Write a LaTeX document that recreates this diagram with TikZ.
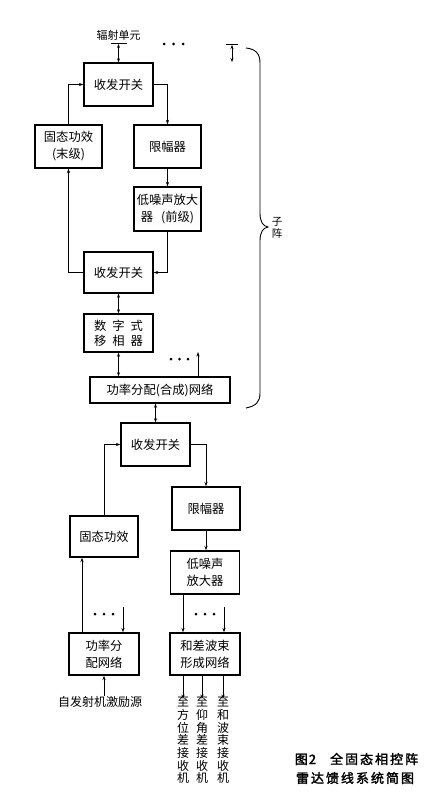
\documentclass[tikz,border=0pt]{standalone}
\usepackage{fontspec}
\newfontfamily\cjk{Noto Sans CJK SC}
\newfontfamily\cjkb[FakeBold=2]{Noto Sans CJK SC}
\usetikzlibrary{arrows.meta}
\begin{document}
\begin{tikzpicture}[x=1pt,y=-1pt,
  box/.style={draw,line width=1.4pt,inner sep=0pt,align=center,font=\cjk\fontsize{12.3}{17}\selectfont},
  bx/.style 2 args={box,minimum width=#1pt,minimum height=#2pt},
  conn/.style={line width=0.9pt},
  arr/.style={conn,-{Stealth[length=4.5pt,width=3.2pt]}},
  darr/.style={conn,{Stealth[length=4pt,width=3pt]}-{Stealth[length=4pt,width=3pt]}},
  lbl/.style={font=\cjk\fontsize{12}{13.5}\selectfont,inner sep=0pt,align=center},
  vlbl/.style={font=\cjk\fontsize{12}{12.7}\selectfont,inner sep=0pt,align=center,anchor=north},
  captxt/.style={font=\cjkb\fontsize{13}{15}\selectfont,inner sep=0pt}]
\useasboundingbox[fill=white] (0,0) rectangle (443,800);

% ---------- sub-array boxes ----------
\node[bx={69}{43}] (ts1) at (118.5,84.5) {收发开关};
\node[bx={67}{43}] (gt1) at (68.5,146.5) {固态功效\\(末级)};
\node[bx={67}{43}] (xf1) at (167.5,146.5) {限幅器};
\node[bx={67}{44}] (dz1) at (167.5,209) {低噪声放大\\器\hspace{8pt}(前级)};
\node[bx={69}{41}] (ts2) at (118.5,272.5) {收发开关};
\node[bx={69}{38}] (yx) at (118.5,333) {数\hspace{6pt}字\hspace{6pt}式\\[-2pt]移\hspace{6pt}相\hspace{6pt}器};
\node[bx={140}{26}] (gf) at (160,390) {功率分配(合成)网络};

% ---------- lower boxes ----------
\node[bx={69}{43}] (ts3) at (155.5,444.5) {收发开关};
\node[bx={68}{41}] (gt2) at (104,536.5) {固态功效};
\node[bx={68}{43}] (xf2) at (206,508.5) {限幅器};
\node[bx={69}{43}] (dz2) at (205,572.5) {低噪声\\放大器};
\node[bx={70}{42}] (fp) at (104,654) {功率分\\配网络};
\node[bx={70}{42}] (hc) at (205,654) {和差波束\\形成网络};

% ---------- antenna and top ----------
\node[lbl,font=\cjk\fontsize{11}{12}\selectfont] (ant) at (118.5,35) {辐射单元};
\coordinate (antb) at (118.5,44);
\draw[line width=1pt] (110.5,44) -- (126.5,44);
\draw[darr] (antb) -- (ts1.north);
\foreach \xx in {164,173.5,183} \fill (\xx,44) circle (1.5pt);
\coordinate (tb) at (232,45);
\coordinate (te) at (232,62);
\draw[line width=1pt] (226,45) -- (238,45);
\draw[darr] (tb) -- (te);

% ---------- sub-array connections ----------
\draw[arr] (gt1.north) |- (ts1.west);
\draw[arr] (ts1.east) -| (xf1.north);
\draw[arr] (xf1.south) -- (xf1.south |- dz1.north);
\draw[arr] (dz1.south) |- (ts2.east);
\draw[arr] (ts2.west) -| (gt1.south);
\draw[darr] (ts2.south) -- (yx.north);
\draw[darr] (yx.south) -- (yx.south |- gf.north);
\foreach \xx in {171,179.5,188} \fill (\xx,359) circle (1.5pt);
\coordinate (gfo) at (198,352);
\draw[arr] (gf.north -| gfo) -- (gfo);

% ---------- brace ----------
\draw[line width=0.9pt] (246,48) .. controls (256,49) and (260,54) .. (260,63)
  -- (260,213) .. controls (260,222) and (263,226) .. (268,227)
  .. controls (263,228) and (260,232) .. (260,241)
  -- (260,393) .. controls (260,402) and (256,406) .. (246,408);
\node[lbl,font=\cjk\fontsize{10.5}{11.5}\selectfont] (zz) at (277,228) {子\\阵};

% ---------- lower connections ----------
\draw[darr] (ts3.north |- gf.south) -- (ts3.north);
\draw[arr] (gt2.north) |- (ts3.west);
\draw[arr] (ts3.east) -| (xf2.north);
\draw[arr] (xf2.south) -- (xf2.south |- dz2.north);
\draw[arr] ([xshift=-22pt]fp.north) -- ([xshift=-22pt]gt2.south);
\draw[arr] ([xshift=-22pt]dz2.south) -- ([xshift=-22pt]hc.north);
\foreach \xx in {95,104,113} \fill (\xx,614) circle (1.5pt);
\foreach \xx in {196,205,214} \fill (\xx,614) circle (1.5pt);
\coordinate (fpi) at (123,607);
\coordinate (hci) at (224,607);
\draw[arr] (fpi) -- (fpi |- fp.north);
\draw[arr] (hci) -- (hci |- hc.north);

\node[lbl] (src) at (100,702) {自发射机激励源};
\draw[arr] (src.north -| fp.south) -- (fp.south);

\node[vlbl] (o1) at (183,697) {至\\方\\位\\差\\接\\收\\机};
\node[vlbl] (o2) at (202,697) {至\\仰\\角\\差\\接\\收\\机};
\node[vlbl] (o3) at (223,697) {至\\和\\波\\束\\接\\收\\机};
\draw[arr] (o1.north |- hc.south) -- ([yshift=-2pt]o1.north);
\draw[arr] (o2.north |- hc.south) -- ([yshift=-2pt]o2.north);
\draw[arr] (o3.north |- hc.south) -- ([yshift=-2pt]o3.north);

% ---------- caption ----------
\node[captxt] (c1) at (356.5,759) {图\hspace{1pt}2\hspace{14pt}全\hspace{2pt}固\hspace{2pt}态\hspace{2pt}相\hspace{2pt}控\hspace{2pt}阵};
\node[captxt] (c2) at (355,778) {雷\hspace{2pt}达\hspace{2pt}馈\hspace{2pt}线\hspace{2pt}系\hspace{2pt}统\hspace{2pt}简\hspace{2pt}图};
\end{tikzpicture}
\end{document}
